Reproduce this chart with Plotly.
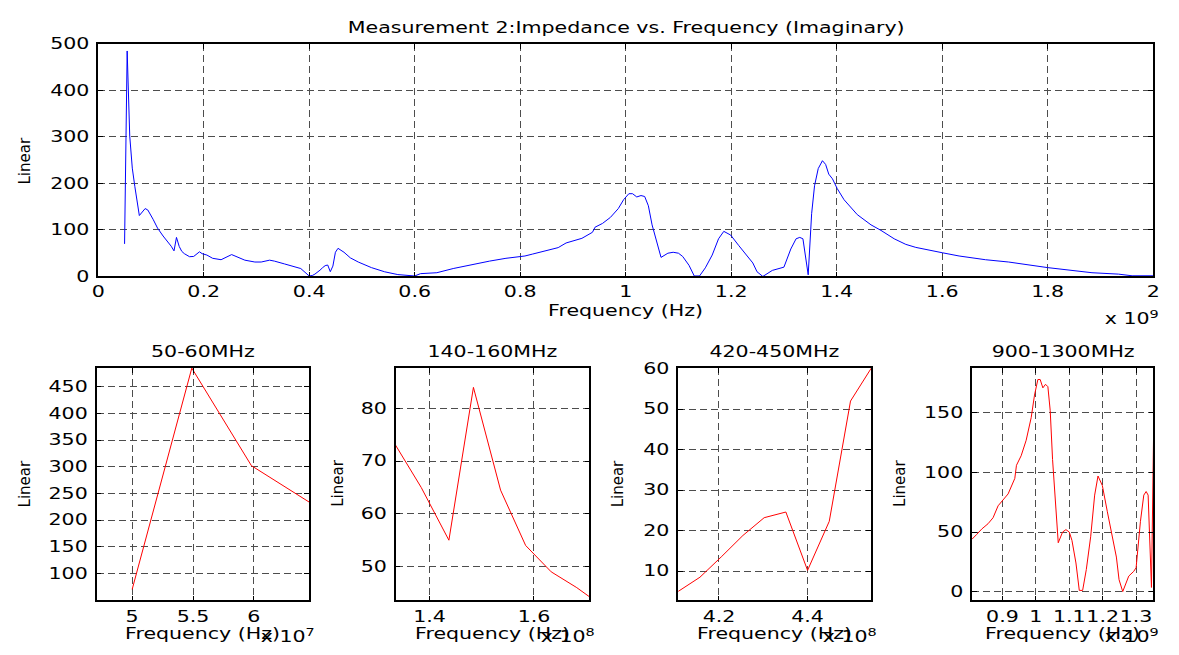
import plotly.graph_objects as go

# ---------------- data (frequency in GHz, imaginary impedance) ----------------
freq_ghz = [
    0.050, 0.0549, 0.0598, 0.0646, 0.0695, 0.078, 0.089, 0.094, 0.104, 0.1125,
    0.123, 0.1335, 0.1384, 0.1437, 0.1484, 0.1536, 0.1584, 0.1633, 0.1682, 0.1731,
    0.181, 0.192, 0.197, 0.206, 0.217, 0.233, 0.253, 0.278, 0.297, 0.309,
    0.325, 0.334, 0.353, 0.372, 0.384, 0.400, 0.4059, 0.4108, 0.4157, 0.4205,
    0.4254, 0.4302, 0.4351, 0.4400, 0.4449, 0.4497, 0.4546, 0.466, 0.478, 0.493,
    0.518, 0.543, 0.568, 0.586, 0.600, 0.611, 0.642, 0.673, 0.711, 0.742,
    0.773, 0.800, 0.809, 0.823, 0.838, 0.857, 0.872, 0.887, 0.900, 0.917,
    0.937, 0.942, 0.956, 0.971, 0.986, 0.996, 1.006, 1.013, 1.021, 1.029,
    1.036, 1.043, 1.050, 1.060, 1.067, 1.080, 1.090, 1.100, 1.108, 1.120,
    1.130, 1.140, 1.151, 1.164, 1.176, 1.186, 1.199, 1.214, 1.229, 1.241,
    1.249, 1.260, 1.278, 1.293, 1.300, 1.313, 1.323, 1.330, 1.336, 1.346,
    1.3525, 1.358, 1.365, 1.373, 1.379, 1.385, 1.392, 1.401, 1.414, 1.439,
    1.465, 1.484, 1.509, 1.531, 1.550, 1.600, 1.632, 1.682, 1.726, 1.800,
    1.852, 1.884, 1.934, 1.960, 2.000,
]
imag_ohm = [
    70, 485, 302, 233, 193, 131, 146, 143, 123, 104,
    87, 73, 65, 55, 84, 64.5, 54, 49, 46, 42.5,
    43, 53, 49, 46, 39, 36, 47, 35, 31, 31,
    35, 33, 27, 21, 17, 1, 2, 5, 8.5, 13.5,
    18.8, 23.2, 24.6, 10.2, 22.3, 52, 60.5, 52, 40, 31,
    19, 10, 4, 1.4, 1, 6, 8, 17, 26, 33,
    39, 42, 44, 48, 52.5, 57, 62, 72, 76, 82,
    95, 106, 114, 127, 146, 165, 178, 178, 171, 174,
    172, 152, 111, 67, 41, 50, 52, 50, 43, 24,
    1, 1, 18.5, 46, 81, 97, 89, 67, 46, 29,
    10, 0, 13, 17, 20, 59, 81, 84, 81, 3.5,
    135, 195, 232, 249, 241, 220, 210, 189, 165, 133,
    111, 99, 81, 69, 62.5, 51, 44, 36, 31, 19,
    12, 8, 5, 1.4, 1.4,
]

main_title = "Measurement 2:Impedance vs. Frequency (Imaginary)"
panel_titles = ["50-60MHz", "140-160MHz", "420-450MHz", "900-1300MHz"]

main_xticks = ["0", "0.2", "0.4", "0.6", "0.8", "1", "1.2", "1.4", "1.6", "1.8", "2"]
main_yticks = [0, 100, 200, 300, 400, 500]

p1_xticks = ["5", "5.5", "6"]            # x 10^7
p1_yticks = [100, 150, 200, 250, 300, 350, 400, 450]
p2_xticks = ["1.4", "1.6"]               # x 10^8
p2_yticks = [50, 60, 70, 80]
p3_xticks = ["4.2", "4.4"]               # x 10^8
p3_yticks = [10, 20, 30, 40, 50, 60]
p4_xticks = ["0.9", "1", "1.1", "1.2", "1.3"]  # x 10^9
p4_yticks = [0, 50, 100, 150]

freq_hz = [f * 1e9 for f in freq_ghz]

# ---------------- layout helpers ----------------
W, H = 1179, 655
FONT = "DejaVu Sans"
FS = 15


def px(x):
    return x / W


def py(y):
    return 1 - y / H


def axis_style(**kw):
    d = dict(
        showline=True, linecolor="black", linewidth=1.5, mirror="ticks",
        ticks="inside", ticklen=5, tickwidth=1, tickcolor="black",
        showgrid=True, gridcolor="#4d4d4d", gridwidth=1, griddash="7px,4px",
        zeroline=False, tickangle=0,
        tickfont=dict(family=FONT, size=FS, color="black"),
        ticklabelstandoff=4,
    )
    d.update(kw)
    return d


fig = go.Figure()

# main plot
fig.add_trace(go.Scatter(x=freq_hz, y=imag_ohm, mode="lines",
                         line=dict(color="#0000ff", width=1),
                         xaxis="x", yaxis="y", showlegend=False))
# zoom panels (same data, different windows)
for i in range(2, 6):
    fig.add_trace(go.Scatter(x=freq_hz, y=imag_ohm, mode="lines",
                             line=dict(color="#ff0000", width=1),
                             xaxis=f"x{i}", yaxis=f"y{i}", showlegend=False))

main_dom_x = [px(94), px(1158)]
main_dom_y = [py(275), py(36)]
panels = [
    # (left, right, xlim, ylim, xticks, scale, yticks)
    (92.3, 306.7, [4.707e7, 6.454e7], [49.5, 485.5], p1_xticks, 1e7, p1_yticks),
    (394.0, 589.3, [1.335e8, 1.706e8], [43.6, 87.7], p2_xticks, 1e8, p2_yticks),
    (679.0, 873.3, [4.108e8, 4.543e8], [2.8, 60.2], p3_xticks, 1e8, p3_yticks),
    (975.3, 1158.3, [0.809e9, 1.352e9], [-7.3, 187.8], p4_xticks, 1e9, p4_yticks),
]
panel_top, panel_bottom = 369, 608

layout = dict(
    width=W, height=H, autosize=False,
    margin=dict(l=0, r=0, t=0, b=0, pad=0),
    paper_bgcolor="white", plot_bgcolor="white",
    showlegend=False,
    xaxis=axis_style(domain=main_dom_x, anchor="y", range=[0, 2e9],
                     tickvals=[float(t) * 1e9 for t in main_xticks],
                     ticktext=main_xticks, ticklabelstandoff=1),
    yaxis=axis_style(domain=main_dom_y, anchor="x", range=[0, 500],
                     tickvals=main_yticks,
                     ticktext=[str(v) for v in main_yticks]),
)

annotations = []


def ann(text, x, y, xanchor="center", yanchor="middle", angle=0, size=FS):
    annotations.append(dict(
        text=text, x=px(x), y=py(y), xref="paper", yref="paper",
        xanchor=xanchor, yanchor=yanchor, showarrow=False, textangle=angle,
        font=dict(family=FONT, size=size, color="black")))


ann(main_title, 626, 20)
ann("Linear", 20, 156, angle=-90)
ann("Frequency (Hz)", 626, 311)
ann("x 10<sup>9</sup>", 1158, 318, xanchor="right")

exps = ["7", "8", "8", "9"]
for k, (l, r, xr, yr, xt, sc, yt) in enumerate(panels):
    i = k + 2
    layout[f"xaxis{i}"] = axis_style(
        domain=[px(l), px(r)], anchor=f"y{i}", range=xr,
        tickvals=[float(t) * sc for t in xt], ticktext=xt, ticklabelstandoff=2)
    layout[f"yaxis{i}"] = axis_style(
        domain=[py(panel_bottom), py(panel_top)], anchor=f"x{i}", range=yr,
        tickvals=yt, ticktext=[str(v) for v in yt])
    cx = (l + r) / 2
    ann(panel_titles[k], cx, 353)
    ann("Frequency (Hz)", cx, 643)
    ann("x 10<sup>" + exps[k] + "</sup>", r, 645, xanchor="right")

for x in (20, 335, 618, 902):
    ann("Linear", x, 488, angle=-90)

layout["annotations"] = annotations
fig.update_layout(**layout)

# The reference figure's lettering is horizontally stretched; widen the
# horizontal texts with SVG textLength (the text stays real text).
stretch_js = """
var gd = document.getElementById('{plot_id}');
function rotated(el) {
  while (el && el !== gd) {
    var tr = el.getAttribute && el.getAttribute('transform');
    if (tr) {
      var m = tr.match(/rotate\\(\\s*(-?[0-9.eE+-]+)/);
      if (m && Math.abs(parseFloat(m[1])) > 0.01) return true;
    }
    el = el.parentNode;
  }
  return false;
}
gd.querySelectorAll('text').forEach(function(t){
  if (rotated(t)) return;
  var w = t.getComputedTextLength();
  if (w > 0) {
    t.setAttribute('textLength', (w * 1.37).toFixed(1));
    t.setAttribute('lengthAdjust', 'spacingAndGlyphs');
  }
});
"""

fig.write_html("out.html", post_script=stretch_js)
